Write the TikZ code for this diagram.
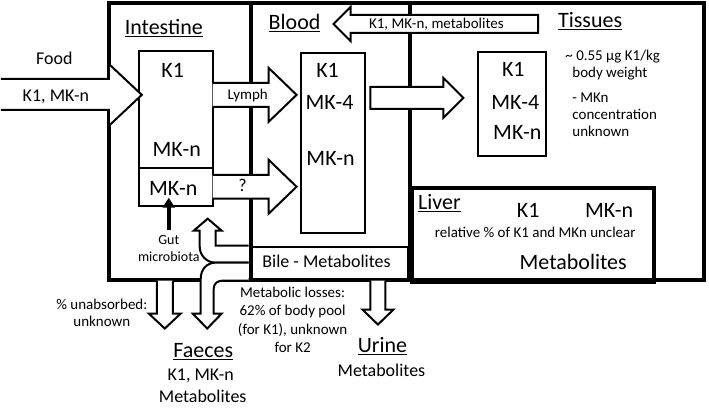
\documentclass[tikz,border=0pt]{standalone}
\usepackage{fontspec}
\setmainfont{Carlito}
\usetikzlibrary{arrows.meta}

\tikzset{
    frame/.style={draw, line width=4pt},
    box/.style={draw, line width=2pt, inner sep=0pt},
    blockarrow/.style={draw, line width=2pt, fill=white, line join=miter},
    bigtxt/.style={font=\fontsize{22}{26}\selectfont, inner sep=0pt, anchor=base},
    midtxt/.style={font=\fontsize{18}{21}\selectfont, inner sep=0pt, anchor=base},
    smalltxt/.style={font=\fontsize{15}{17}\selectfont, inner sep=0pt, anchor=base},
    tinytxt/.style={font=\fontsize{14}{17}\selectfont, inner sep=0pt, anchor=base}
}

\begin{document}
\begin{tikzpicture}[x=1pt, y=-1pt]
                        \fill[white] (0,0) rectangle (709,408);
                        % compartments
                        \draw[frame] (108,3) rectangle (704,280);
                        \draw[frame] (250,3) -- (250,280);
                        \draw[frame] (410,3) -- (410,280);
                        \node[frame, inner sep=0pt, minimum width=242, minimum height=94, anchor=north west] (liver) at (410,186) {};
                        \node[box, minimum width=74, minimum height=117] (intbox) at (175,109.5) {};
                        \node[box, minimum width=74, minimum height=38] (gutbox) at (175,187) {};
                        \node[box, minimum width=65, minimum height=180] (bloodbox) at (332.5,143) {};
                        \node[box, minimum width=68, minimum height=104] (tissbox) at (512,104) {};
                        \node[box, minimum width=158, minimum height=33] (bilebox) at (329,263.5) {};

                        % block arrows
                        \filldraw[blockarrow] (0,79) -- (108,79) -- (108,64) -- (141,95) -- (108,126) -- (108,110) -- (0,110);
                        \filldraw[blockarrow] (212,83) -- (268,83) -- (268,68) -- (296,95) -- (268,122) -- (268,107) -- (212,107);
                        \filldraw[blockarrow] (212,175) -- (268,175) -- (268,160) -- (296,187) -- (268,214) -- (268,199) -- (212,199);
                        \filldraw[blockarrow] (370,87) -- (443,87) -- (443,78) -- (463,98) -- (443,118) -- (443,109) -- (370,109) -- cycle;
                        \filldraw[blockarrow] (538,15) -- (350,15) -- (350,7) -- (333,24) -- (350,41) -- (350,33) -- (538,33) -- cycle;
                        \filldraw[blockarrow] (156,281) -- (156,314) -- (148,314) -- (164,329) -- (180,314) -- (172,314) -- (172,281);
                        \filldraw[blockarrow] (370,281) -- (370,310) -- (362,310) -- (377.5,325) -- (393,310) -- (385,310) -- (385,281);
                        \filldraw[blockarrow] (248,246) -- (215,246) -- (215,231) -- (221,231) -- (207,219) -- (193,231) -- (199,231) -- (199,247)
                            .. controls (199,256) and (206,263) .. (215,263) -- (248,263);
                        \filldraw[blockarrow] (248,263) -- (215,263) .. controls (206,263) and (200,270) .. (200,279) -- (200,314) -- (192,314)
                            -- (206.5,329) -- (221,314) -- (213,314) -- (213,289) .. controls (213,284) and (217,281) .. (222,281) -- (248,281);

                        % intestine
                        \node[midtxt] (food) at (53.5,65) {Food};
                        \node[midtxt] (foodk) at (55,102) {K1, MK-n};
                        \node[bigtxt] (intlbl) at (163,35) {\underline{Intestine}};
                        \node[bigtxt] (intk1) at (172,78) {K1};
                        \node[bigtxt] (intmk) at (176,157) {MK-n};
                        \node[bigtxt] (gutmk) at (172.5,196) {MK-n};
                        \node[smalltxt] (lymph) at (247,100) {Lymph};
                        \node[midtxt] (qmark) at (242,192) {?};
                        \node[tinytxt] (gut) at (168,245) {Gut};
                        \node[tinytxt] (microbiota) at (168,262) {microbiota};
                        \draw[line width=4pt, -{Triangle[length=10pt, width=12pt]}] ([yshift=5pt]gut.north) -- ([yshift=9pt]gut.north |- gutbox.south);

                        % blood
                        \node[bigtxt] (bloodlbl) at (294,30) {\underline{Blood}};
                        \node[bigtxt] (bloodk1) at (327,78) {K1};
                        \node[bigtxt] (bloodmk4) at (329,110) {MK-4};
                        \node[bigtxt] (bloodmk) at (330,166) {MK-n};
                        \node[smalltxt] (backtxt) at (436,29) {K1, MK-n, metabolites};
                        \node[midtxt] (biletxt) at (326,268) {Bile - Metabolites};

                        % tissues
                        \node[bigtxt] (tisslbl) at (590,28) {\underline{Tissues}};
                        \node[bigtxt] (tissk1) at (513,77) {K1};
                        \node[bigtxt] (tissmk4) at (515,110) {MK-4};
                        \node[bigtxt] (tissmk) at (517,140) {MK-n};
                        \node[smalltxt, anchor=base west] (note1) at (565,61) {\textasciitilde{} 0.55 µg K1/kg};
                        \node[smalltxt, anchor=base west] (note2) at (572,78) {body weight};
                        \node[smalltxt, anchor=base west] (note3) at (572,103) {- MKn};
                        \node[smalltxt, anchor=base west] (note4) at (572,120) {concentration};
                        \node[smalltxt, anchor=base west] (note5) at (572,137) {unknown};

                        % liver
                        \node[bigtxt] (liverlbl) at (439,210) {\underline{Liver}};
                        \node[bigtxt] (liverk1) at (528,218) {K1};
                        \node[bigtxt] (livermk) at (609,218) {MK-n};
                        \node[smalltxt] (relative) at (535,238) {relative \% of K1 and MKn unclear};
                        \node[bigtxt] (livermet) at (573,270) {Metabolites};

                        % outputs
                        \node[smalltxt] (unabs1) at (101,310) {\% unabsorbed:};
                        \node[smalltxt] (unabs2) at (101,327) {unknown};
                        \node[bigtxt] (faeceslbl) at (202.5,358) {\underline{Faeces}};
                        \node[midtxt] (faecesk) at (200,381) {K1, MK-n};
                        \node[midtxt] (faecesmet) at (202,403) {Metabolites};
                        \node[smalltxt] (loss1) at (292,298) {Metabolic losses:};
                        \node[smalltxt] (loss2) at (292,316) {62\% of body pool};
                        \node[smalltxt] (loss3) at (292,335) {(for K1), unknown};
                        \node[smalltxt] (loss4) at (292,353) {for K2};
                        \node[bigtxt] (urinelbl) at (382,353) {\underline{Urine}};
                        \node[midtxt] (urinemet) at (381,377) {Metabolites};
                    \end{tikzpicture}
\end{document}
